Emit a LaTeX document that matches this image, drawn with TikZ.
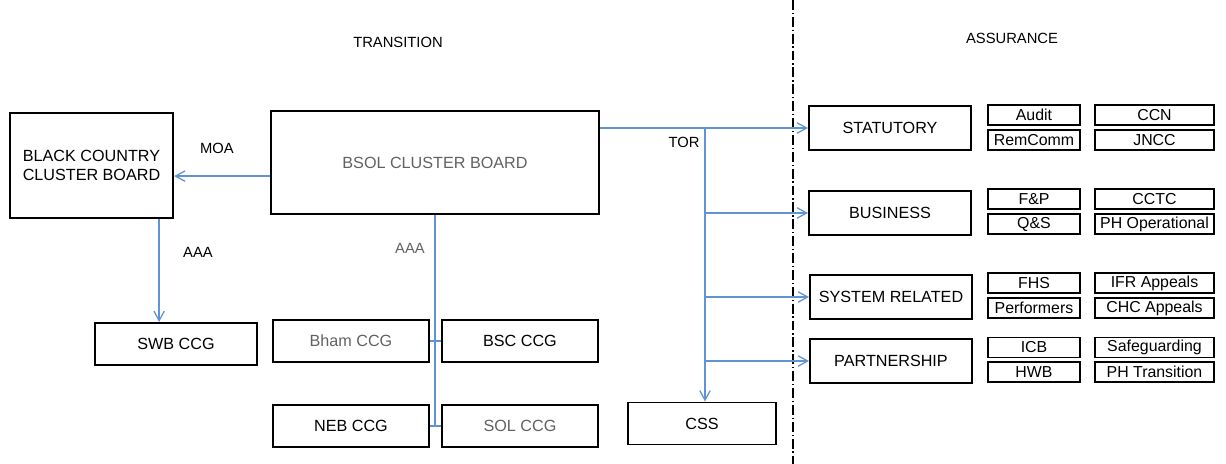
\documentclass[tikz,border=0pt]{standalone}
\usepackage{fontspec}
\setmainfont{Liberation Sans}
\usepackage{xcolor}
\usepackage{tikz}
\usetikzlibrary{arrows.meta}
\definecolor{lnblue}{RGB}{96,146,214}

\begin{document}
\begin{tikzpicture}[x=0.025cm, y=-0.025cm,
  >={Straight Barb[length=2.4mm,width=2.6mm]}, font=\fontsize{11.5}{13.5}\selectfont,
  board/.style={rectangle, draw, line width=1.4pt, align=center, inner sep=2pt},
  ccg/.style={board, minimum width=3.9cm, minimum height=1.05cm},
  assr/.style={board, minimum width=4.05cm, minimum height=1.12cm},
  sub/.style={rectangle, draw, line width=1.3pt, inner sep=0pt, minimum height=0.5cm,
              font=\fontsize{11.3}{12}\selectfont},
  subl/.style={sub, minimum width=2.3cm},
  subr/.style={sub, minimum width=2.97cm},
  e/.style={->, line width=0.9pt, draw=lnblue},
  ln/.style={line width=0.9pt, draw=lnblue},
  lbl/.style={font=\fontsize{10.5}{12}\selectfont, inner sep=1pt},
  grey/.style={text=black!62},
]
\useasboundingbox (0,0) rectangle (1226,464);
\node[lbl] (trans) at (398,42) {TRANSITION};
\node[lbl] (assu)  at (1012,38) {ASSURANCE};

% transition side
\node[board, minimum width=4.08cm, minimum height=2.63cm] (bc) at (91.5,165.5) {BLACK COUNTRY\\CLUSTER BOARD};
\node[board, grey, minimum width=8.2cm, minimum height=2.58cm] (bsol) at (435,162.5) {BSOL CLUSTER BOARD};
\node[ccg, minimum width=4.05cm] (swb) at (176,344) {SWB CCG};
\node[ccg, grey] (bham) at (351,341) {Bham CCG};
\node[ccg]       (bsc)  at (520,341) {BSC CCG};
\node[ccg]       (neb)  at (351,426) {NEB CCG};
\node[ccg, grey] (sol)  at (520,426) {SOL CCG};
\node[ccg, minimum width=3.7cm] (css) at (702,423.5) {CSS};

% assurance side
\node[assr] (stat) at (890,128) {STATUTORY};
\node[assr] (bus)  at (890,213) {BUSINESS};
\node[assr] (sys)  at (891,297) {SYSTEM RELATED};
\node[assr] (part) at (891,361) {PARTNERSHIP};

\node[subl] (audit)   at (1034,115)   {Audit};
\node[subl] (remcomm) at (1034,140)   {RemComm};
\node[subr] (ccn)     at (1154.5,115) {CCN};
\node[subr] (jncc)    at (1154.5,140) {JNCC};
\node[subl] (fp)      at (1034,199)   {F\&P};
\node[subl] (qs)      at (1034,224)   {Q\&S};
\node[subr] (cctc)    at (1154.5,199) {CCTC};
\node[subr] (phop)    at (1154.5,224) {PH Operational};
\node[subl] (fhs)     at (1034,283)   {FHS};
\node[subl] (perf)    at (1034,308)   {Performers};
\node[subr] (ifr)     at (1154.5,283) {IFR Appeals};
\node[subr] (chc)     at (1154.5,308) {CHC Appeals};
\node[subl] (icb)     at (1034,347.5) {ICB};
\node[subl] (hwb)     at (1034,372)   {HWB};
\node[subr] (safe)    at (1154.5,347.5) {Safeguarding};
\node[subr] (phtr)    at (1154.5,372) {PH Transition};

% divider
\draw[line width=1pt, dash pattern=on 7pt off 2pt on 1pt off 2pt] (793,0) -- (793,464);

% connectors
\draw[e] ([yshift=-0.34cm]bsol.west) -- ([yshift=-0.34cm]bsol.west -| bc.east);
\node[lbl] (moa) at (217,148) {MOA};
\draw[e] ([xshift=1.69cm]bc.south) -- ([xshift=1.69cm]bc.south |- swb.north);
\node[lbl] (aaa1) at (198,252) {AAA};
\draw[ln] (bsol.south) -- (bsol.south |- neb.east);
\draw[ln] (bham.east) -- (bsc.west);
\draw[ln] (neb.east) -- (sol.west);
\node[lbl, grey] (aaa2) at (410,248) {AAA};

\coordinate (tor) at (705,128);
\draw[e] (bsol.east |- stat.west) -- (stat.west);
\draw[e] (tor) -- (tor |- css.north);
\draw[e] (tor |- bus.west) -- (bus.west);
\draw[e] (tor |- sys.west) -- (sys.west);
\draw[e] (tor |- part.west) -- (part.west);
\node[lbl] (torl) at (684,142) {TOR};
\end{tikzpicture}
\end{document}
